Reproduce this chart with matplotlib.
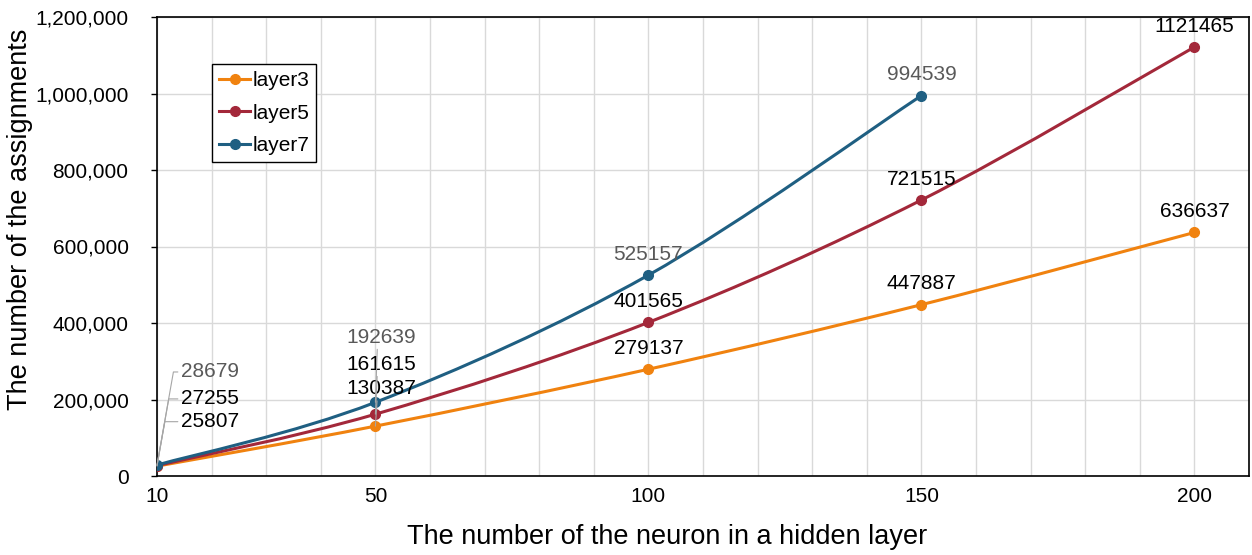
import numpy as np
import matplotlib
matplotlib.use("Agg")
import matplotlib.pyplot as plt
from matplotlib.path import Path
from matplotlib.patches import PathPatch
from matplotlib.ticker import FuncFormatter, MultipleLocator

plt.rcParams['font.family'] = ['Liberation Sans', 'DejaVu Sans']

# Data
neurons = [10, 50, 100, 150, 200]
layer3 = [25807, 130387, 279137, 447887, 636637]
layer5 = [27255, 161615, 401565, 721515, 1121465]
layer7 = [28679, 192639, 525157, 994539]
series_names = ["layer3", "layer5", "layer7"]
x_ticks = [10, 50, 100, 150, 200]

colors = {"layer3": "#F0820F", "layer5": "#A3283A", "layer7": "#1F5F82"}
label_colors = {"layer3": "#000000", "layer5": "#000000", "layer7": "#595959"}

FS = 15

fig = plt.figure(figsize=(12.52, 5.55), dpi=100)
ax = fig.add_axes([157 / 1252, 1 - 476 / 555, (1249 - 157) / 1252, (476 - 17) / 555])


def smooth_path(xs, ys):
    """Catmull-Rom style Bezier path through the points (smoothed line)."""
    pts = np.column_stack([xs, ys]).astype(float)
    n = len(pts)
    verts = [pts[0]]
    codes = [Path.MOVETO]
    for i in range(n - 1):
        p0 = pts[i - 1] if i > 0 else pts[i]
        p1 = pts[i]
        p2 = pts[i + 1]
        p3 = pts[i + 2] if i + 2 < n else pts[i + 1]
        c1 = p1 + (p2 - p0) / 6.0
        c2 = p2 - (p3 - p1) / 6.0
        verts += [c1, c2, p2]
        codes += [Path.CURVE4] * 3
    return Path(verts, codes)


all_series = {"layer3": layer3, "layer5": layer5, "layer7": layer7}
for name in series_names:
    ys = all_series[name]
    xs = neurons[:len(ys)]
    patch = PathPatch(smooth_path(xs, ys), facecolor="none", edgecolor=colors[name],
                      lw=2.2, zorder=3, capstyle="round")
    ax.add_patch(patch)
    ax.plot(xs, ys, linestyle="none", marker="o", markersize=7,
            color=colors[name], zorder=4)
    # legend proxy
    ax.plot([], [], color=colors[name], lw=2.2, marker="o", markersize=7, label=name)

# Value labels above the points (x >= 100)
for name in series_names:
    ys = all_series[name]
    xs = neurons[:len(ys)]
    for x, y in zip(xs, ys):
        if x >= 100:
            ax.annotate(f"{y}", (x, y), xytext=(0, 15), textcoords="offset points",
                        ha="center", va="center", fontsize=FS,
                        color=label_colors[name], zorder=5)

leader = dict(arrowstyle="-", color="#A6A6A6", lw=0.8, shrinkA=0, shrinkB=0)

# Labels at x = 10 with leader lines
offsets10 = {"layer7": 67, "layer5": 48, "layer3": 32}
for name in series_names:
    y = all_series[name][0]
    ax.annotate(f"{y}", (neurons[0], y), xytext=(17, offsets10[name]),
                textcoords="offset points", ha="left", va="center", fontsize=FS,
                color=label_colors[name], zorder=5,
                arrowprops=dict(leader, relpos=(0, 0.5),
                                connectionstyle="angle,angleA=180,angleB=80,rad=0"))

# Labels at x = 50 with leader lines
offsets50 = {"layer7": 47, "layer5": 36, "layer3": 27}
for name in series_names:
    y = all_series[name][1]
    ax.annotate(f"{y}", (neurons[1], y), xytext=(4, offsets50[name]),
                textcoords="offset points", ha="center", va="center", fontsize=FS,
                color=label_colors[name], zorder=5,
                arrowprops=dict(leader, relpos=(0.45, 0.2)))

ax.set_xlim(10, 210)
ax.set_ylim(0, 1200000)
ax.set_xticks(x_ticks)
ax.xaxis.set_minor_locator(MultipleLocator(10))
ax.yaxis.set_major_locator(MultipleLocator(200000))
ax.yaxis.set_major_formatter(FuncFormatter(lambda v, p: f"{int(v):,}"))

ax.grid(True, which="both", axis="x", color="#D9D9D9", lw=1)
ax.grid(True, which="major", axis="y", color="#D9D9D9", lw=1)
ax.set_axisbelow(True)

ax.tick_params(axis="x", which="both", length=0, pad=8, labelsize=FS)
ax.tick_params(axis="y", length=4.5, width=1, pad=16, labelsize=FS, direction="out")
for s in ax.spines.values():
    s.set_color("black")
    s.set_linewidth(1.2)

ax.set_xlabel("The number of the neuron in a hidden layer", fontsize=19.5)
ax.set_ylabel("The number of the assignments", fontsize=19.5)
ax.xaxis.set_label_coords(0.467, -0.1035)
ax.yaxis.set_label_coords(-0.1136, 0.56)

leg = ax.legend(loc="upper left", bbox_to_anchor=(0.05, 0.898), borderaxespad=0,
                fontsize=FS, frameon=True, fancybox=False, framealpha=1,
                edgecolor="black", handlelength=1.5, handletextpad=0.1,
                labelspacing=0.645, borderpad=0.35)
leg.get_frame().set_linewidth(1.0)

fig.savefig("out.png", dpi=100)
